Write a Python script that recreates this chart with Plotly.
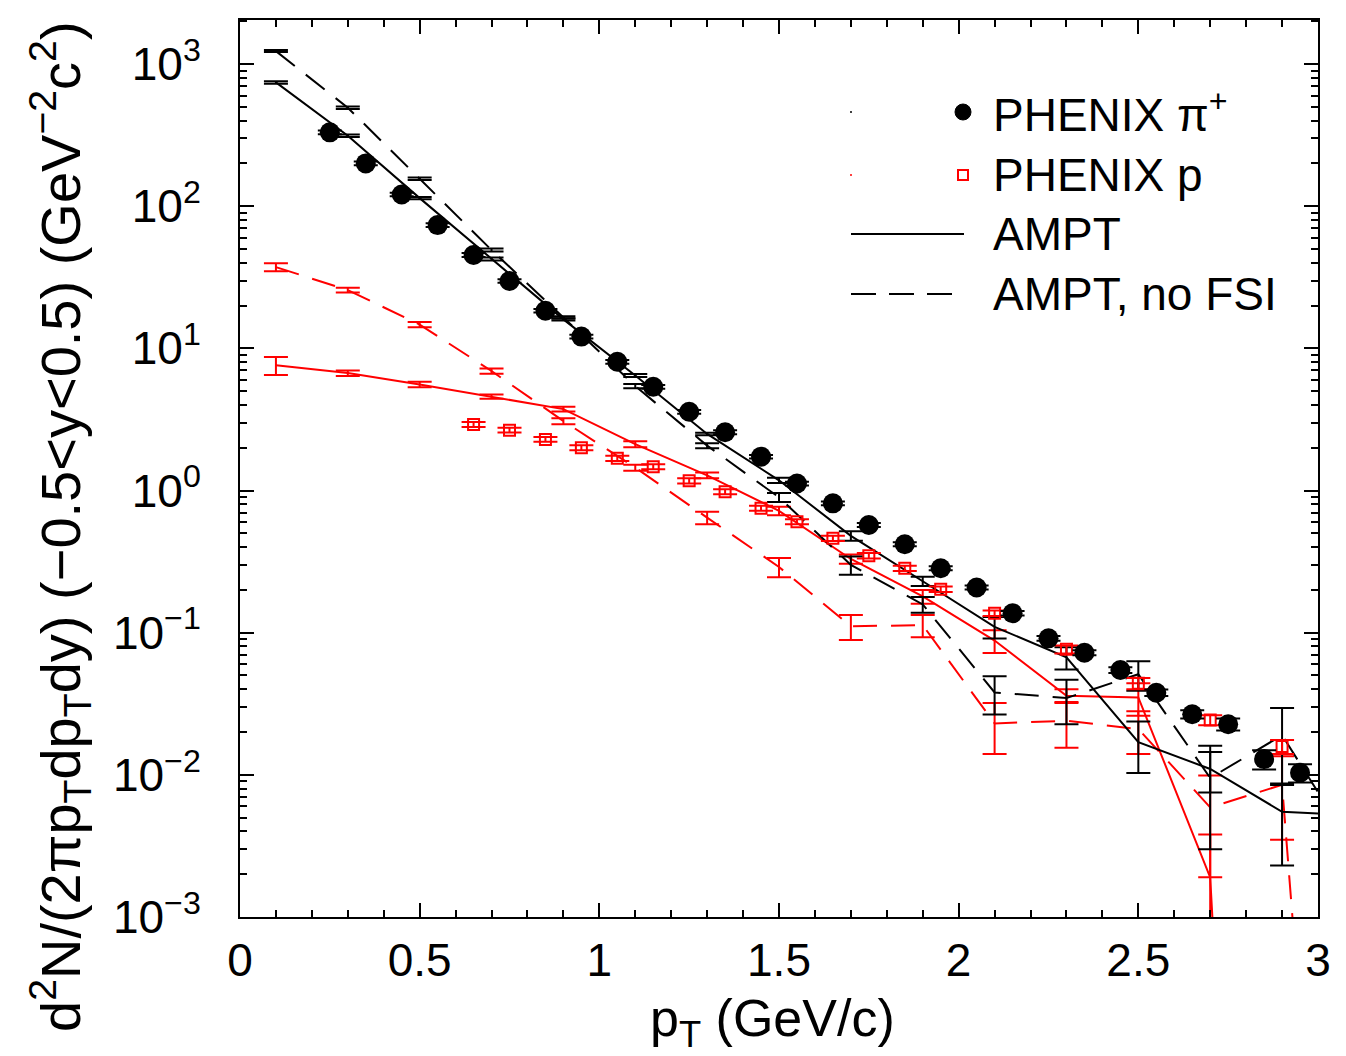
import plotly.graph_objects as go

# ---------------- data ----------------
pion_pt = [0.25, 0.35, 0.45, 0.55, 0.65, 0.75, 0.85, 0.95, 1.05, 1.15, 1.25, 1.35, 1.45, 1.55,
           1.65, 1.75, 1.85, 1.95, 2.05, 2.15, 2.25, 2.35, 2.45, 2.55, 2.65, 2.75, 2.85, 2.95]
pion_y = [331, 200, 121, 73.7, 45.4, 29.8, 18.4, 12.1, 8.05, 5.37, 3.58, 2.57, 1.73, 1.12,
          0.813, 0.572, 0.419, 0.284, 0.208, 0.137, 0.0913, 0.0723, 0.0546, 0.0378, 0.0267, 0.0227, 0.0129, 0.01035]
pion_err = [10, 6, 3.6, 2.2, 1.4, 0.9, 0.55, 0.36, 0.24, 0.16, 0.11, 0.08, 0.05, 0.034,
            0.025, 0.018, 0.013, 0.009, 0.007, 0.005, 0.0035, 0.003, 0.0025, 0.002, 0.0018, 0.0022, 0.002, 0.0015]

prot_pt = [0.65, 0.75, 0.85, 0.95, 1.05, 1.15, 1.25, 1.35, 1.45, 1.55, 1.65, 1.75, 1.85, 1.95,
           2.1, 2.3, 2.5, 2.7, 2.9]
prot_y = [2.92, 2.66, 2.29, 2.0, 1.685, 1.47, 1.17, 0.98, 0.75, 0.604, 0.461, 0.348, 0.284, 0.202,
          0.137, 0.0764, 0.044, 0.0243, 0.0158]
prot_err = [0.12, 0.1, 0.09, 0.08, 0.07, 0.06, 0.05, 0.04, 0.03, 0.025, 0.02, 0.015, 0.012, 0.009,
            0.006, 0.005, 0.004, 0.002, 0.0018]

ampt_pt = [0.1, 0.3, 0.5, 0.7, 0.9, 1.1, 1.3, 1.5, 1.7, 1.9, 2.1, 2.3, 2.5, 2.7, 2.9, 3.1]

ampt_pi = [743, 313, 114, 42.5, 16.0, 6.45, 2.5, 1.18, 0.48, 0.23, 0.11, 0.067, 0.017, 0.011, 0.0055, 0.0052]
ampt_pi_err = [15, 6, 2, 1, 0.3, 0.15, 0.05, 0.05, 0.037, 0.017, 0.019, 0.012, 0.0067, 0.0035, 0.0032, 0]

nofsi_pi = [1234, 493, 156, 49.2, 16.5, 5.43, 2.07, 0.895, 0.30, 0.158, 0.038, 0.0347, 0.051, 0.0095, 0.019, 0.003]
nofsi_pi_err = [20, 10, 3, 1.2, 0.3, 0.18, 0.085, 0.065, 0.044, 0.02, 0.0114, 0.012, 0.012, 0.0065, 0.0105, 0]

ampt_p = [7.6, 6.7, 5.57, 4.58, 3.74, 2.12, 1.28, 0.72, 0.33, 0.18, 0.088, 0.036, 0.035, 0.0019, 1e-12]
ampt_p_err = [1.1, 0.3, 0.25, 0.15, 0.15, 0.1, 0.06, 0.05, 0.025, 0.02, 0.016, 0.004, 0.009, 0.0019, 0]

nofsi_p = [37.3, 25.7, 14.7, 6.93, 3.08, 1.45, 0.645, 0.29, 0.111, 0.113, 0.023, 0.024, 0.021, 0.0059, 0.0085, 3e-9]
nofsi_p_err = [2.4, 1.0, 0.6, 0.3, 0.15, 0.07, 0.065, 0.045, 0.022, 0.02, 0.009, 0.0085, 0.007, 0.004, 0.005, 0]

y_tickvals = [1e-3, 1e-2, 1e-1, 1e0, 1e1, 1e2, 1e3]
y_ticktext = ["10<sup>\u22123</sup>", "10<sup>\u22122</sup>", "10<sup>\u22121</sup>", "10<sup>0</sup>",
              "10<sup>1</sup>", "10<sup>2</sup>", "10<sup>3</sup>"]

legend_labels = ["PHENIX \u03c0<sup>+</sup>", "PHENIX p", "AMPT", "AMPT, no FSI"]

# ---------------- layout geometry ----------------
W, H = 1346, 1056
L, R, T, B = 240, 1318, 20, 917
FONT = "Liberation Sans, Arial, Helvetica, sans-serif"


def px_x(p):
    return (p - L) / (R - L)


def px_y(p):
    return (B - p) / (B - T)


fig = go.Figure()


def ampt_trace(x, y, err, color, dash):
    return go.Scatter(
        x=x[:len(y)], y=y, mode="lines",
        line=dict(color=color, width=2, dash=dash),
        error_y=dict(type="data", array=err, visible=True, color=color, thickness=2, width=12),
        showlegend=False, hoverinfo="skip",
    )


fig.add_trace(ampt_trace(ampt_pt, ampt_p, ampt_p_err, "#ff0000", "solid"))
fig.add_trace(ampt_trace(ampt_pt, nofsi_p, nofsi_p_err, "#ff0000", "24px,14px"))
fig.add_trace(ampt_trace(ampt_pt, ampt_pi, ampt_pi_err, "black", "solid"))
fig.add_trace(ampt_trace(ampt_pt, nofsi_pi, nofsi_pi_err, "black", "24px,14px"))

fig.add_trace(go.Scatter(
    x=prot_pt, y=prot_y, mode="markers",
    marker=dict(symbol="square-open", size=11, color="#ff0000", line=dict(color="#ff0000", width=2)),
    error_y=dict(type="data", array=prot_err, visible=True, color="#ff0000", thickness=2, width=12),
    showlegend=False,
))
fig.add_trace(go.Scatter(
    x=pion_pt, y=pion_y, mode="markers",
    marker=dict(symbol="circle", size=20, color="black"),
    error_y=dict(type="data", array=pion_err, visible=True, color="black", thickness=2, width=12),
    showlegend=False,
))

# ---------------- manual legend ----------------
rows = [112, 175, 234, 294]
shapes = []
annotations = []
shapes.append(dict(type="line", xref="paper", yref="paper", x0=px_x(850), x1=px_x(852),
                   y0=px_y(rows[0]), y1=px_y(rows[0]), line=dict(color="black", width=1.5)))
shapes.append(dict(type="line", xref="paper", yref="paper", x0=px_x(850), x1=px_x(852),
                   y0=px_y(rows[1]), y1=px_y(rows[1]), line=dict(color="#ff0000", width=1.5)))
shapes.append(dict(type="circle", xref="paper", yref="paper", x0=px_x(955), x1=px_x(971),
                   y0=px_y(rows[0] + 8), y1=px_y(rows[0] - 8), fillcolor="black", line=dict(color="black", width=1)))
shapes.append(dict(type="rect", xref="paper", yref="paper", x0=px_x(958), x1=px_x(968),
                   y0=px_y(rows[1] + 5), y1=px_y(rows[1] - 5), line=dict(color="#ff0000", width=2)))
shapes.append(dict(type="line", xref="paper", yref="paper", x0=px_x(851), x1=px_x(964),
                   y0=px_y(rows[2]), y1=px_y(rows[2]), line=dict(color="black", width=2)))
shapes.append(dict(type="line", xref="paper", yref="paper", x0=px_x(851), x1=px_x(955),
                   y0=px_y(rows[3]), y1=px_y(rows[3]), line=dict(color="black", width=2, dash="25px,13px")))

for lab, r in zip(legend_labels, rows):
    annotations.append(dict(text=lab, xref="paper", yref="paper", x=px_x(991), y=px_y(r),
                            xanchor="left", yanchor="middle", showarrow=False,
                            font=dict(family=FONT, size=46, color="black")))

# axis titles
annotations.append(dict(text="p<sub>T</sub> (GeV/c)", xref="paper", yref="paper",
                        x=px_x(772), y=px_y(1022), xanchor="center", yanchor="middle", showarrow=False,
                        font=dict(family=FONT, size=52, color="black")))
annotations.append(dict(text="d<sup>2</sup>N/(2\u03c0p<sub>T</sub>dp<sub>T</sub>dy) (\u22120.5&lt;y&lt;0.5) (GeV<sup>\u22122</sup>c<sup>2</sup>)",
                        xref="paper", yref="paper", x=px_x(60), y=px_y(527), textangle=-90,
                        xanchor="center", yanchor="middle", showarrow=False,
                        font=dict(family=FONT, size=56, color="black")))

minor_y = [k * 10.0 ** e for e in range(-3, 4) for k in range(2, 10)]

fig.update_layout(
    width=W, height=H,
    margin=dict(l=L, r=W - R, t=T, b=H - B, pad=0),
    paper_bgcolor="white", plot_bgcolor="white",
    font=dict(family=FONT, color="black"),
    shapes=shapes, annotations=annotations,
    showlegend=False,
)
fig.update_xaxes(
    range=[0, 3], showgrid=False, zeroline=False,
    showline=True, linecolor="black", linewidth=2, mirror="allticks",
    ticks="inside", ticklen=14, tickwidth=2, tickcolor="black",
    tickmode="linear", tick0=0, dtick=0.5,
    tickfont=dict(family=FONT, size=46, color="black"), ticklabelstandoff=2,
    minor=dict(ticks="inside", ticklen=7, tickwidth=1.5, tickcolor="black", dtick=0.1, tick0=0, showgrid=False),
)
fig.update_yaxes(
    type="log", range=[-3, 3.31], showgrid=False, zeroline=False,
    showline=True, linecolor="black", linewidth=2, mirror="allticks",
    ticks="inside", ticklen=14, tickwidth=2, tickcolor="black",
    tickmode="array", tickvals=y_tickvals, ticktext=y_ticktext,
    tickfont=dict(family=FONT, size=46, color="black"), ticklabelstandoff=28,
    minor=dict(ticks="inside", ticklen=7, tickwidth=1.5, tickcolor="black", tickmode="array",
               tickvals=minor_y, showgrid=False),
)

fig.write_html("out.html")
